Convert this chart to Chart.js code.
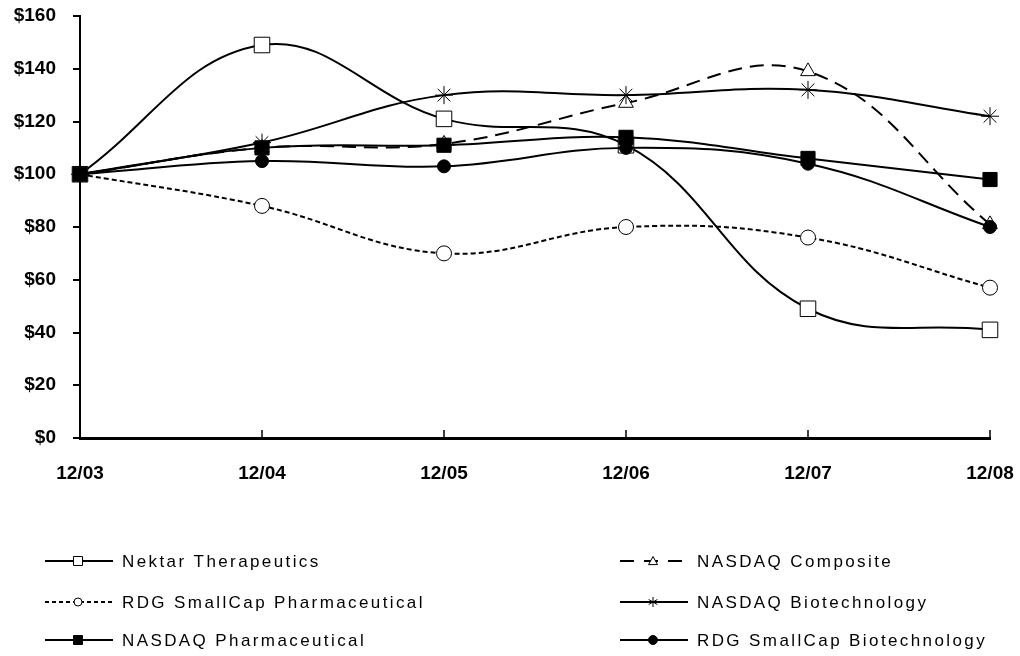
<!DOCTYPE html>
<html>
<head>
<meta charset="utf-8">
<script src="https://cdn.jsdelivr.net/npm/chart.js@4"></script>
<style>
  body { margin: 0; background: #fff; }
  #wrap { width: 1020px; height: 656px; position: relative; }
</style>
</head>
<body>
<div id="wrap"><canvas id="chart"></canvas></div>
<script>
const years = ["12/03", "12/04", "12/05", "12/06", "12/07", "12/08"];
const nektar = [100, 149, 121, 111, 49, 41];
const nasdaqComposite = [100, 110, 111.5, 127, 139, 81];
const rdgPharma = [100, 88, 70, 80, 76, 57];
const nasdaqBiotech = [100, 112, 130, 130, 132, 122];
const nasdaqPharma = [100, 110, 111, 114, 106, 98];
const rdgBiotech = [100, 105, 103, 110, 104, 80];
const yTicks = [0, 20, 40, 60, 80, 100, 120, 140, 160];

const ctx = document.getElementById("chart");

// legend slots: column x of line start, row y
const legendSlots = [
  { x: 45, y: 561 },  // Nektar
  { x: 620, y: 561 }, // Composite
  { x: 45, y: 602 },  // RDG pharma
  { x: 620, y: 602 }, // Biotech
  { x: 45, y: 640 },  // NASDAQ pharma
  { x: 620, y: 640 }, // RDG biotech
];

function marker(c, style, x, y, r, fill) {
  c.save();
  c.lineWidth = 1;
  c.strokeStyle = "#000";
  c.fillStyle = fill ? "#000" : "#fff";
  c.setLineDash([]);
  c.beginPath();
  if (style === "rect") {
    c.rect(x - r, y - r, 2 * r, 2 * r);
    c.fill(); c.stroke();
  } else if (style === "circle") {
    c.arc(x, y, r, 0, Math.PI * 2);
    c.fill(); c.stroke();
  } else if (style === "triangle") {
    c.moveTo(x, y - r);
    c.lineTo(x + r, y + r * 0.8);
    c.lineTo(x - r, y + r * 0.8);
    c.closePath();
    c.fill(); c.stroke();
  } else if (style === "star") {
    for (let a = 0; a < 3; a++) {
      const ang = Math.PI / 2 + a * Math.PI / 3;
      c.moveTo(x + Math.cos(ang) * r, y + Math.sin(ang) * r);
      c.lineTo(x - Math.cos(ang) * r, y - Math.sin(ang) * r);
    }
    c.stroke();
  }
  c.restore();
}

const customLegend = {
  id: "customLegend",
  afterDraw(chart) {
    const c = chart.ctx;
    const xs = chart.scales.x;
    // inward tick marks on x axis
    c.save();
    c.strokeStyle = "#000";
    c.lineWidth = 1.5;
    xs.ticks.forEach((t, i) => {
      const px = xs.getPixelForTick(i);
      c.beginPath();
      c.moveTo(px, chart.chartArea.bottom);
      c.lineTo(px, chart.chartArea.bottom - 8);
      c.stroke();
    });
    c.restore();

    chart.data.datasets.forEach((ds, i) => {
      const s = legendSlots[i];
      c.save();
      c.strokeStyle = "#000";
      c.lineWidth = 2;
      c.setLineDash(ds.legendDash || []);
      c.beginPath();
      c.moveTo(s.x, s.y);
      c.lineTo(s.x + 68, s.y);
      c.stroke();
      c.restore();
      marker(c, ds.pointStyle, s.x + 33, s.y, ds.legendR, ds.pointBackgroundColor === "#000");
      c.save();
      c.fillStyle = "#000";
      c.font = "17px 'Liberation Sans', Arial, sans-serif";
      c.letterSpacing = "2.4px";
      c.textBaseline = "middle";
      c.fillText(ds.label, s.x + 77, s.y + 1);
      c.restore();
    });
  },
};

function series(label, data, style, radius, filled, dash, legendDash, legendR, order) {
  return {
    label: label,
    data: data,
    order: order,
    borderColor: "#000",
    borderWidth: 2,
    borderDash: dash,
    tension: 0.4,
    pointStyle: style,
    pointRadius: radius,
    pointHoverRadius: radius,
    pointBorderWidth: 1,
    pointBorderColor: "#000",
    pointBackgroundColor: filled ? "#000" : "#fff",
    legendDash: legendDash,
    legendR: legendR,
    fill: false,
  };
}

new Chart(ctx, {
  type: "line",
  data: {
    labels: years,
    datasets: [
      series("Nektar Therapeutics", nektar, "rect", 11, false, [], [], 4.5, 3),
      series("NASDAQ Composite", nasdaqComposite, "triangle", 8.5, false, [14, 8], [14, 10], 4.5, 4),
      series("RDG SmallCap Pharmaceutical", rdgPharma, "circle", 7.5, false, [5, 3], [4, 3], 4, 5),
      series("NASDAQ Biotechnology", nasdaqBiotech, "star", 9, false, [], [], 5, 2),
      series("NASDAQ Pharmaceutical", nasdaqPharma, "rect", 10, true, [], [], 4.5, 0),
      series("RDG SmallCap Biotechnology", rdgBiotech, "circle", 6.5, true, [], [], 4.5, 1),
    ],
  },
  options: {
    responsive: true,
    maintainAspectRatio: false,
    animation: false,
    layout: { padding: { top: 16, right: 30, bottom: 0, left: 0 } },
    plugins: {
      legend: { display: false },
      tooltip: { enabled: false },
    },
    scales: {
      x: {
        offset: false,
        grid: { display: true, drawOnChartArea: false, drawTicks: false },
        border: { color: "#000", width: 3 },
        ticks: {
          color: "#000",
          padding: 24,
          maxRotation: 0,
          font: { family: "'Liberation Sans', Arial, sans-serif", size: 19, weight: "bold" },
        },
        afterFit(scale) {
          scale.height = 218;
          scale.paddingLeft = 0;
          scale.paddingRight = 0;
        },
      },
      y: {
        min: 0,
        max: 160,
        afterBuildTicks(scale) { scale.ticks = yTicks.map((v) => ({ value: v })); },
        grid: { drawOnChartArea: false, drawTicks: true, tickLength: 7, color: "#000", lineWidth: 2 },
        border: { color: "#000", width: 2 },
        ticks: {
          color: "#000",
          padding: 17,
          font: { family: "'Liberation Sans', Arial, sans-serif", size: 19, weight: "bold" },
          callback: function (value) {
            return "$" + value;
          },
        },
        afterFit(scale) {
          scale.width = 80;
          scale.paddingTop = 0;
          scale.paddingBottom = 0;
        },
      },
    },
  },
  plugins: [customLegend],
});
</script>
</body>
</html>
